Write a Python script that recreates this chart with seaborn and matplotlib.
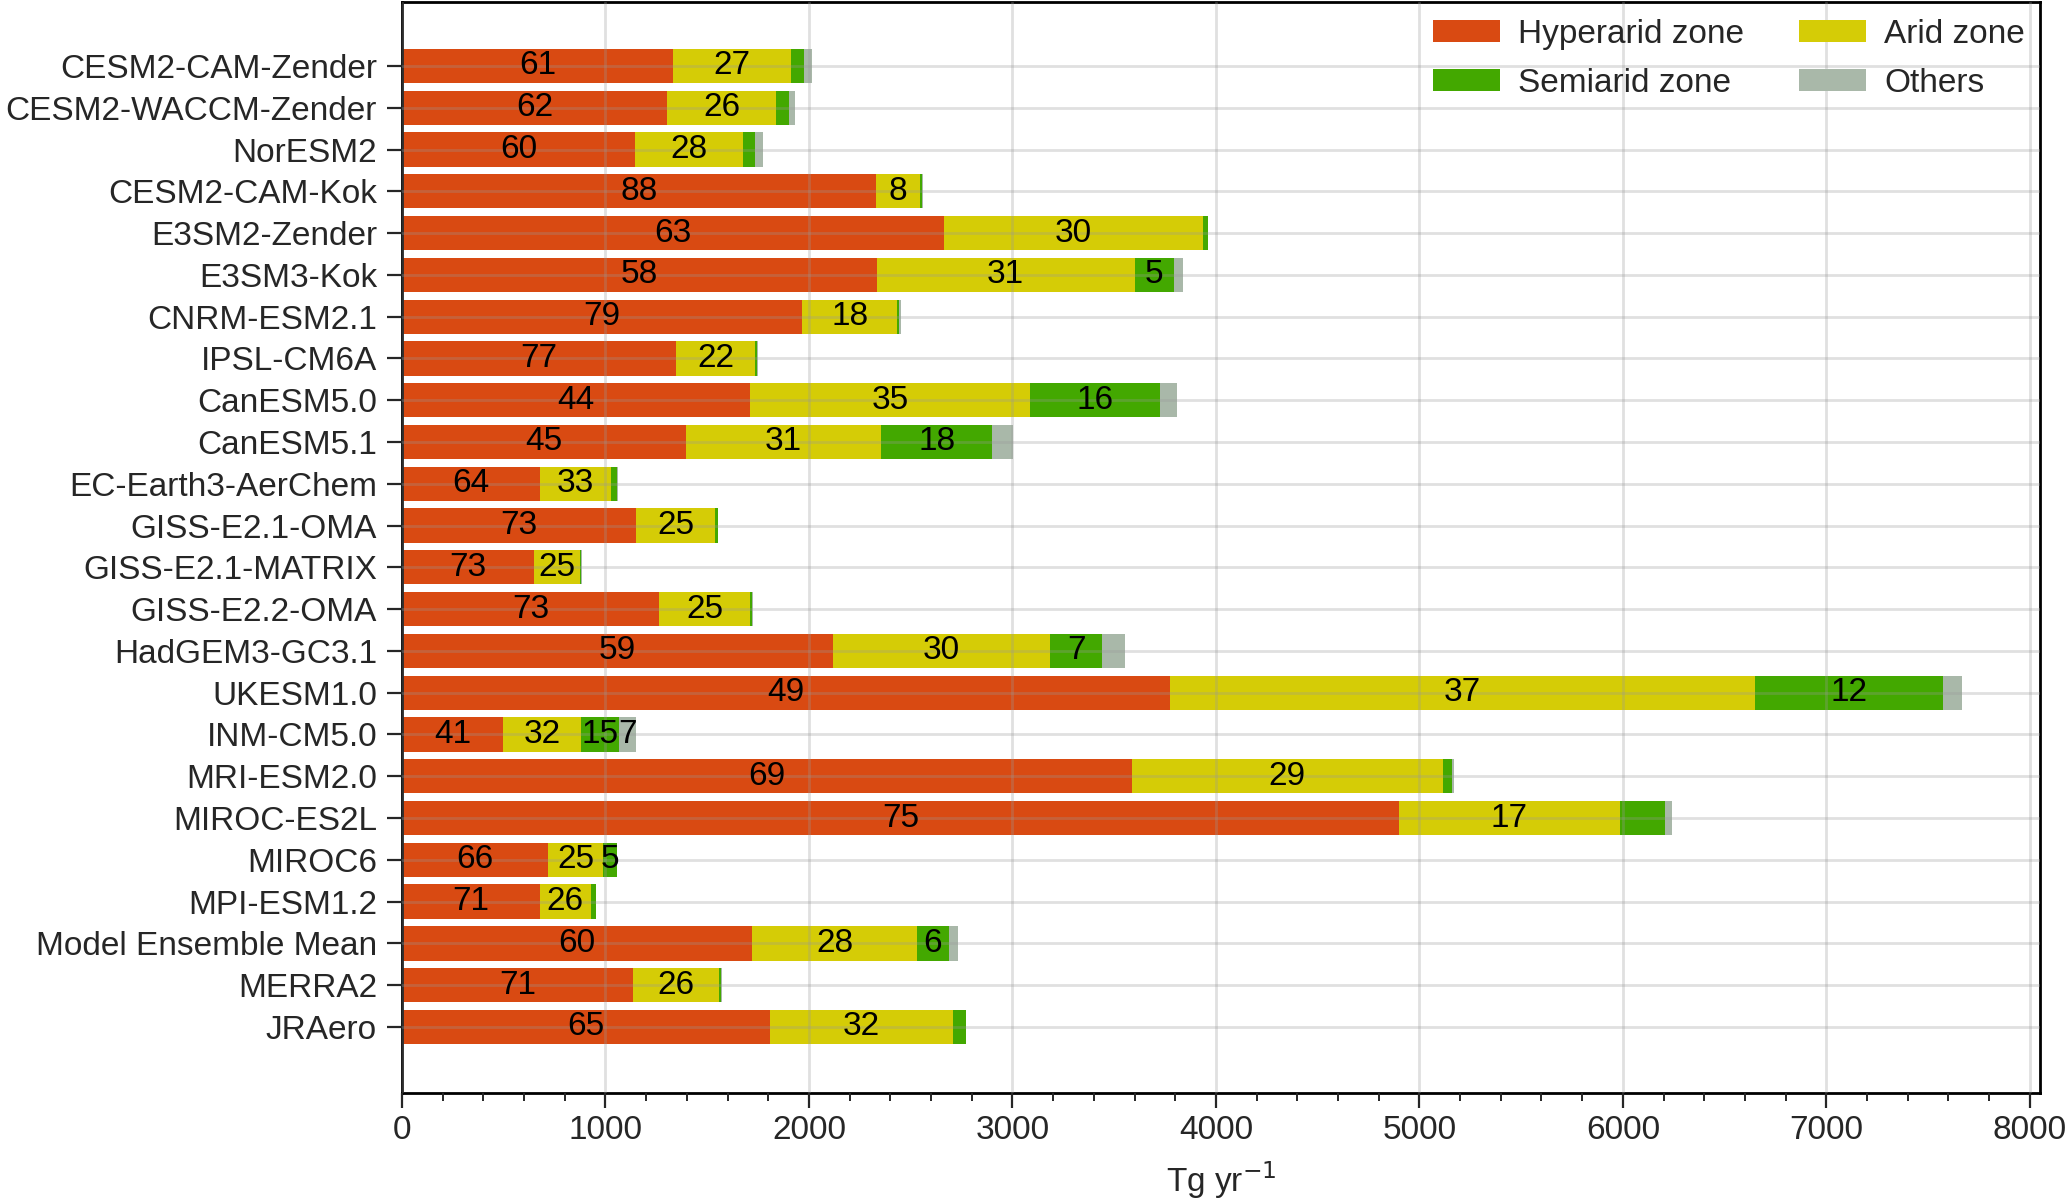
"""Dust emission by aridity zone, stacked horizontal bars."""

import matplotlib.pyplot as plt
import numpy as np
import pandas as pd
import seaborn as sns
from matplotlib.patches import Patch
from matplotlib.ticker import MultipleLocator

# Models (top to bottom)
models = [
    "CESM2-CAM-Zender", "CESM2-WACCM-Zender", "NorESM2", "CESM2-CAM-Kok",
    "E3SM2-Zender", "E3SM3-Kok", "CNRM-ESM2.1", "IPSL-CM6A", "CanESM5.0",
    "CanESM5.1", "EC-Earth3-AerChem", "GISS-E2.1-OMA", "GISS-E2.1-MATRIX",
    "GISS-E2.2-OMA", "HadGEM3-GC3.1", "UKESM1.0", "INM-CM5.0", "MRI-ESM2.0",
    "MIROC-ES2L", "MIROC6", "MPI-ESM1.2", "Model Ensemble Mean", "MERRA2",
    "JRAero",
]

# Emission per zone (Tg yr-1)
hyperarid = [1334, 1302, 1144, 2330, 2665, 2333, 1968, 1348, 1712, 1395, 676, 1149,
             649, 1265, 2120, 3774, 497, 3586, 4900, 717, 676, 1722, 1136, 1808]
arid = [577, 537, 530, 214, 1270, 1267, 466, 389, 1374, 961, 352, 390,
        226, 447, 1065, 2873, 382, 1529, 1085, 273, 252, 807, 423, 898]
semiarid = [67, 62, 61, 12, 25, 192, 10, 8, 638, 546, 30, 12,
            7, 10, 255, 926, 187, 47, 221, 65, 23, 159, 10, 65]
others = [35, 32, 37, 4, 0, 48, 9, 3, 83, 100, 4, 4,
          3, 2, 112, 94, 83, 6, 33, 3, 2, 45, 2, 1]

# Share of each zone (%) as printed on the bars
hyperarid_pct = [61, 62, 60, 88, 63, 58, 79, 77, 44, 45, 64, 73,
                 73, 73, 59, 49, 41, 69, 75, 66, 71, 60, 71, 65]
arid_pct = [27, 26, 28, 8, 30, 31, 18, 22, 35, 31, 33, 25,
            25, 25, 30, 37, 32, 29, 17, 25, 26, 28, 26, 32]
semiarid_pct = [3, 3, 3, 0, 1, 5, 0, 0, 16, 18, 3, 1,
                1, 1, 7, 12, 15, 1, 4, 5, 2, 6, 1, 2]
others_pct = [2, 2, 2, 0, 0, 1, 0, 0, 2, 3, 0, 0,
              0, 0, 3, 1, 7, 0, 1, 0, 0, 2, 0, 0]

zones = ["Hyperarid zone", "Arid zone", "Semiarid zone", "Others"]
colors = {
    "Hyperarid zone": "#d94a12",
    "Arid zone": "#d5cc06",
    "Semiarid zone": "#43a800",
    "Others": "#a9b8a9",
}

df = pd.DataFrame({
    "model": models,
    "Hyperarid zone": hyperarid,
    "Arid zone": arid,
    "Semiarid zone": semiarid,
    "Others": others,
})
pct = pd.DataFrame({
    "Hyperarid zone": hyperarid_pct,
    "Arid zone": arid_pct,
    "Semiarid zone": semiarid_pct,
    "Others": others_pct,
})

sns.set_style("ticks")
plt.rcParams["font.family"] = ["Liberation Sans", "DejaVu Sans"]
plt.rcParams["font.size"] = 24

fig = plt.figure(figsize=(20.67, 12), dpi=100)
ax = fig.add_axes([402 / 2067, 1 - 1093 / 1200, (2040 - 402) / 2067, (1093 - 2) / 1200])

# Stack by drawing cumulative totals, longest first
cum = df[zones].cumsum(axis=1)
for zone in zones[::-1]:
    sns.barplot(
        data=df.assign(value=cum[zone]),
        x="value",
        y="model",
        orient="h",
        color=colors[zone],
        saturation=1,
        width=0.82,
        linewidth=0,
        errorbar=None,
        ax=ax,
    )

# Percentage labels centred in each segment
starts = cum.shift(1, axis=1).fillna(0)
for i in range(len(models)):
    for zone in zones:
        if pct.loc[i, zone] >= 5:
            mid = starts.loc[i, zone] + df.loc[i, zone] / 2
            ax.text(mid, i, str(pct.loc[i, zone]), ha="center", va="center",
                    fontsize=24, color="black")

ax.set_xlim(0, 8050)
ax.set_ylim(len(models) - 1 + 1.58, -1.53)
ax.xaxis.set_major_locator(MultipleLocator(1000))
ax.xaxis.set_minor_locator(MultipleLocator(200))
ax.tick_params(axis="both", which="major", length=11, width=1.6, labelsize=24)
ax.tick_params(axis="x", which="major", pad=5)
ax.tick_params(axis="y", which="major", pad=7)
ax.tick_params(axis="x", which="minor", length=6, width=1.4)
ax.set_xlabel("Tg yr$^{-1}$", fontsize=24, labelpad=9)
ax.set_ylabel("")

# grid sits over the bars, as in the original
ax.set_axisbelow(False)
ax.grid(True, which="major", axis="both", color="#999999", alpha=0.3, linewidth=2)
for side in ["top", "bottom", "left", "right"]:
    ax.spines[side].set_visible(True)
    ax.spines[side].set_linewidth(2)
    ax.spines[side].set_color("black")

# Legend fills columns first: left column Hyperarid/Semiarid, right column Arid/Others
order = ["Hyperarid zone", "Semiarid zone", "Arid zone", "Others"]
handles = [Patch(facecolor=colors[z], edgecolor="none", label=z) for z in order]
ax.legend(
    handles=handles,
    loc="upper right",
    bbox_to_anchor=(0.999, 0.997),
    ncol=2,
    frameon=False,
    fontsize=24,
    borderaxespad=0,
    borderpad=0.4,
    handlelength=2.0,
    handleheight=0.66,
    handletextpad=0.55,
    columnspacing=1.65,
    labelspacing=0.55,
)

fig.savefig("out.png", dpi=100)
